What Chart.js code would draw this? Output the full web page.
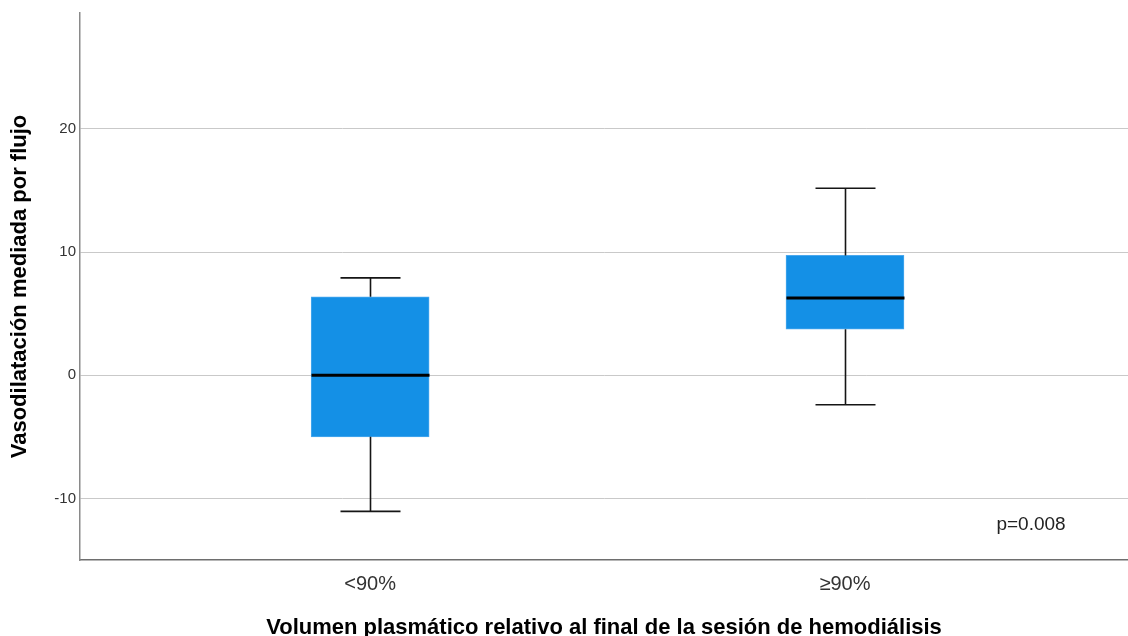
<!DOCTYPE html>
<html>
<head>
<meta charset="utf-8">
<script src="https://cdn.jsdelivr.net/npm/chart.js@4.4.1/dist/chart.umd.min.js"></script>
<style>
  html, body { margin: 0; padding: 0; background: #ffffff; }
  #wrap { width: 1128px; height: 636px; position: relative; }
</style>
</head>
<body>
<div id="wrap"><canvas id="chart" width="1128" height="636"></canvas></div>
<script>
// Grupos y estadísticos del diagrama de cajas
const groups = ['<90%', '≥90%'];
const groupPos = [1, 2];
const whiskerLow = [-11.05, -2.4];
const q1 = [-5.0, 3.73];
const median = [0.0, 6.27];
const q3 = [6.37, 9.72];
const whiskerHigh = [7.9, 15.18];
const yTicks = [-10, 0, 10, 20];
const pText = 'p=0.008';

const FONT = '"Liberation Sans", Arial, sans-serif';

const boxData = groupPos.map((x, i) => ({ x: x, y: [q1[i], q3[i]] }));

// Bigotes, topes y medianas dibujados con las escalas del gráfico
const boxExtras = {
  id: 'boxExtras',
  afterDatasetsDraw(chart) {
    const { ctx, scales: { x, y }, chartArea } = chart;
    ctx.save();
    groupPos.forEach((g, i) => {
      const cx = Math.round(x.getPixelForValue(g)) + 0.5;
      const capHalf = 30;
      const boxHalf = 59;
      ctx.strokeStyle = '#151515';
      ctx.lineWidth = 1.6;
      ctx.beginPath();
      // bigote superior
      ctx.moveTo(cx, y.getPixelForValue(q3[i]));
      ctx.lineTo(cx, y.getPixelForValue(whiskerHigh[i]));
      ctx.moveTo(cx - capHalf, y.getPixelForValue(whiskerHigh[i]));
      ctx.lineTo(cx + capHalf, y.getPixelForValue(whiskerHigh[i]));
      // bigote inferior
      ctx.moveTo(cx, y.getPixelForValue(q1[i]));
      ctx.lineTo(cx, y.getPixelForValue(whiskerLow[i]));
      ctx.moveTo(cx - capHalf, y.getPixelForValue(whiskerLow[i]));
      ctx.lineTo(cx + capHalf, y.getPixelForValue(whiskerLow[i]));
      ctx.stroke();
      // mediana
      ctx.strokeStyle = '#000000';
      ctx.lineWidth = 3;
      ctx.beginPath();
      ctx.moveTo(cx - boxHalf, y.getPixelForValue(median[i]));
      ctx.lineTo(cx + boxHalf, y.getPixelForValue(median[i]));
      ctx.stroke();
    });
    // valor p
    ctx.fillStyle = '#222222';
    ctx.font = '19px ' + FONT;
    ctx.textAlign = 'center';
    ctx.textBaseline = 'middle';
    ctx.fillText(pText, chartArea.right - 97, chartArea.bottom - 35);
    ctx.restore();
  }
};

new Chart(document.getElementById('chart'), {
  type: 'bar',
  data: {
    datasets: [{
      data: boxData,
      backgroundColor: '#1490e6',
      borderColor: '#4aa8ee',
      borderWidth: 1,
      borderSkipped: false,
      barThickness: 118
    }]
  },
  options: {
    responsive: false,
    animation: false,
    layout: { padding: { top: 12, right: 0, left: 0, bottom: 0 } },
    plugins: { legend: { display: false }, tooltip: { enabled: false } },
    scales: {
      x: {
        type: 'linear',
        offset: false,
        bounds: 'ticks',
        min: 0.389,
        max: 2.596,
        afterDataLimits(scale) { scale.min = 0.389; scale.max = 2.596; },
        afterBuildTicks(scale) { scale.ticks = groupPos.map(v => ({ value: v })); },
        afterFit(scale) { scale.height = 76; },
        grid: { display: false, drawTicks: false },
        border: { display: true, color: '#6e6e6e', width: 1.5 },
        ticks: {
          padding: 12,
          color: '#333333',
          font: { family: FONT, size: 20 },
          callback: (v) => groups[groupPos.indexOf(v)] ?? ''
        },
        title: {
          display: true,
          text: 'Volumen plasmático relativo al final de la sesión de hemodiálisis',
          color: '#000000',
          font: { family: FONT, size: 22, weight: 'bold', lineHeight: 0.75 },
          padding: { top: 0, bottom: 0 }
        }
      },
      y: {
        min: -15,
        max: 29.4,
        afterBuildTicks(scale) { scale.ticks = yTicks.map(v => ({ value: v })); },
        afterFit(scale) { scale.width = 80; },
        grid: { color: '#c9c9c9', lineWidth: 1, drawTicks: false },
        border: { display: true, color: '#8a8a8a', width: 1.5 },
        ticks: {
          padding: 4,
          color: '#333333',
          font: { family: FONT, size: 15 }
        },
        title: {
          display: true,
          text: 'Vasodilatación mediada por flujo',
          color: '#000000',
          font: { family: FONT, size: 22, weight: 'bold', lineHeight: 1 },
          padding: { top: 9, bottom: 0 }
        }
      }
    }
  },
  plugins: [boxExtras]
});
</script>
</body>
</html>
